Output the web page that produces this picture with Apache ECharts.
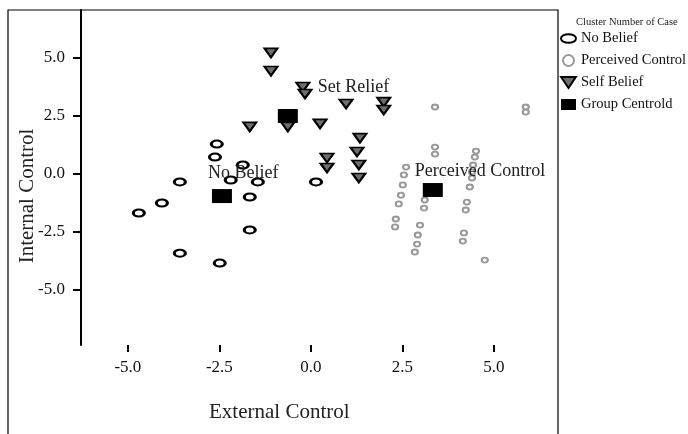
<!DOCTYPE html>
<html>
<head>
<meta charset="utf-8">
<script src="https://cdn.jsdelivr.net/npm/echarts@6/dist/echarts.min.js"></script>
<style>
  html, body { margin: 0; padding: 0; background: #fff; }
  #chart { width: 688px; height: 434px; }
</style>
</head>
<body>
<div id="chart"></div>
<script>
const tickValues = [-5, -2.5, 0, 2.5, 5];

const noBelief = [
  [-2.57, 1.29], [-2.62, 0.73], [-1.86, 0.39], [-2.19, -0.26], [-1.45, -0.34],
  [-3.58, -0.34], [0.14, -0.34], [-4.07, -1.25], [-4.70, -1.68], [-1.67, -0.99],
  [-1.67, -2.41], [-3.58, -3.41], [-2.49, -3.84]
];

const perceivedControl = [
  [3.39, 2.89], [5.87, 2.89], [5.87, 2.67], [3.39, 1.16], [3.39, 0.86],
  [4.51, 0.99], [4.48, 0.73], [4.43, 0.39], [4.40, 0.09], [4.40, -0.17],
  [4.34, -0.56], [2.60, 0.30], [2.54, -0.04], [2.51, -0.47], [2.46, -0.91],
  [2.40, -1.29], [2.32, -1.94], [2.30, -2.28], [3.11, -1.12], [3.09, -1.47],
  [4.26, -1.21], [4.23, -1.55], [2.98, -2.20], [2.92, -2.63], [2.90, -3.02],
  [2.84, -3.36], [4.18, -2.54], [4.15, -2.89], [4.75, -3.71]
];

const selfBelief = [
  [-1.09, 5.22], [-1.09, 4.44], [-0.22, 3.75], [-0.16, 3.45], [-1.67, 2.03],
  [-0.63, 2.03], [0.25, 2.16], [0.44, 0.69], [0.44, 0.26], [0.96, 3.02],
  [1.99, 3.10], [1.99, 2.76], [1.34, 1.55], [1.26, 0.95], [1.31, 0.39],
  [1.31, -0.17]
];

const centroids = [
  { name: "No Belief", value: [-2.43, -0.95], labelPos: [-4, -16] },
  { name: "Set Relief", value: [-0.63, 2.50], labelPos: [40, -22] },
  { name: "Perceived Control", value: [3.33, -0.69], labelPos: [-8, -12] }
];

const serif = "Liberation Serif";
const downTriangle = "path://M0,0 L12,0 L6,9 Z";
const ellipse = "path://M0,4 A7,4 0 1,0 14,4 A7,4 0 1,0 0,4 Z";

const chart = echarts.init(document.getElementById("chart"));

const option = {
  animation: false,
  textStyle: { fontFamily: serif },
  grid: { left: 81, top: 10, right: 130, bottom: 89 },
  title: {
    text: "Cluster Number of Case",
    left: 571,
    top: 12,
    textStyle: { fontFamily: serif, fontSize: 10.5, fontWeight: "normal", color: "#222" }
  },
  legend: {
    orient: "vertical",
    left: 560,
    top: 31,
    padding: 0,
    itemWidth: 15,
    itemHeight: 11,
    itemGap: 7,
    textStyle: { fontFamily: serif, fontSize: 14.5, color: "#111", lineHeight: 15 },
    data: [
      { name: "No Belief", icon: ellipse },
      { name: "Perceived Control" },
      { name: "Self Belief", icon: downTriangle },
      { name: "Group Centrold", icon: "rect" }
    ]
  },
  xAxis: {
    type: "value",
    min: -6.28,
    max: 6.75,
    splitLine: { show: false },
    axisLine: { show: false, onZero: false },
    axisTick: {
      show: true,
      customValues: tickValues,
      length: 7,
      lineStyle: { color: "#000", width: 2 }
    },
    axisLabel: {
      customValues: tickValues,
      formatter: (v) => v.toFixed(1),
      margin: 14,
      fontFamily: serif,
      fontSize: 17,
      color: "#111"
    }
  },
  yAxis: {
    type: "value",
    min: -7.37,
    max: 7.07,
    splitLine: { show: false },
    axisLine: { show: true, onZero: false, lineStyle: { color: "#000", width: 2 } },
    axisTick: {
      show: true,
      customValues: tickValues,
      length: 8,
      lineStyle: { color: "#000", width: 2 }
    },
    axisLabel: {
      customValues: tickValues,
      formatter: (v) => v.toFixed(1),
      margin: 16,
      fontFamily: serif,
      fontSize: 17,
      color: "#111"
    }
  },
  graphic: [
    {
      type: "polyline",
      shape: { points: [[8, 440], [8, 10], [558, 10], [558, 440]] },
      style: { stroke: "#000", lineWidth: 1.2, fill: null },
      silent: true
    },
    {
      type: "text",
      left: 209,
      top: 402,
      style: { text: "External Control", font: "21px 'Liberation Serif'", fill: "#222" }
    },
    {
      type: "text",
      x: 27,
      y: 196,
      rotation: Math.PI / 2,
      style: {
        text: "Internal Control",
        font: "21px 'Liberation Serif'",
        fill: "#222",
        align: "center",
        verticalAlign: "middle"
      }
    }
  ],
  series: [
    {
      name: "No Belief",
      type: "scatter",
      data: noBelief,
      symbol: "circle",
      symbolSize: [11, 7],
      itemStyle: { color: "#fff", borderColor: "#000", borderWidth: 2.5, opacity: 1 },
      z: 2
    },
    {
      name: "Perceived Control",
      type: "scatter",
      data: perceivedControl,
      symbol: "circle",
      symbolSize: [6, 5],
      itemStyle: { color: "#fff", borderColor: "#999", borderWidth: 2, opacity: 1 },
      z: 2
    },
    {
      name: "Self Belief",
      type: "scatter",
      data: selfBelief,
      symbol: downTriangle,
      symbolSize: [13, 9],
      itemStyle: { color: "#6e6e6e", borderColor: "#000", borderWidth: 2, opacity: 1 },
      z: 3
    },
    {
      name: "Group Centrold",
      type: "scatter",
      data: centroids.map((c) => ({
        value: c.value,
        label: {
          show: true,
          formatter: c.name,
          position: c.labelPos,
          align: "left",
          verticalAlign: "middle",
          fontFamily: serif,
          fontSize: 18,
          color: "#222"
        }
      })),
      symbol: "rect",
      symbolSize: [20, 14],
      itemStyle: { color: "#000", opacity: 1 },
      z: 4
    }
  ]
};

chart.setOption(option);
</script>
</body>
</html>
